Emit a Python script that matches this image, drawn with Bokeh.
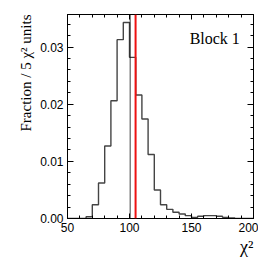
from bokeh.plotting import figure
from bokeh.models import LinearAxis, FixedTicker, PrintfTickFormatter, Span, Label, Range1d, Title
from bokeh.embed import file_html
from bokeh.resources import INLINE

# ---- data ----
bin_low = [50, 55, 60, 65, 70, 75, 80, 85, 90, 95, 100, 105, 110, 115, 120,
           125, 130, 135, 140, 145, 150, 155, 160, 165, 170, 175, 180, 185, 190, 195]
bin_width = 5
fraction = [0, 0, 0, 0.0003, 0.0024, 0.0062, 0.0127, 0.0206, 0.0313, 0.0343,
            0.0282, 0.0216, 0.0174, 0.0112, 0.0050, 0.0024, 0.0016, 0.0011, 0.0008, 0.0005,
            0.0002, 0.0004, 0.0005, 0.0005, 0.0004, 0.0002, 0.0001, 0, 0, 0]
dotted_value = 100.6
red_value = 104.9
x_major = [50, 100, 150, 200]
x_minor = [60, 70, 80, 90, 110, 120, 130, 140, 160, 170, 180, 190]
y_major = [0.0, 0.01, 0.02, 0.03]
y_minor = [0.002, 0.004, 0.006, 0.008, 0.012, 0.014, 0.016, 0.018,
           0.022, 0.024, 0.026, 0.028, 0.032, 0.034]
panel_text = "Block 1"
x_title = "χ²"
y_title = "Fraction / 5 χ² units"

SANS = "Liberation Sans"
SERIF = "Liberation Serif"

p = figure(width=258, height=258, output_backend="svg", toolbar_location=None,
           x_range=Range1d(50, 200), y_range=Range1d(0, 0.0357),
           min_border_left=67, min_border_right=5, min_border_top=14, min_border_bottom=40,
           x_axis_location=None, y_axis_location=None)
p.grid.visible = False
p.outline_line_color = "black"
p.background_fill_color = "white"
p.border_fill_color = "white"

xt = FixedTicker(ticks=x_major, minor_ticks=x_minor)
yt = FixedTicker(ticks=y_major, minor_ticks=y_minor)

def style(ax, labels):
    ax.axis_line_color = "black"
    ax.axis_line_width = 1
    ax.major_tick_in = 5
    ax.major_tick_out = 0
    ax.minor_tick_in = 3
    ax.minor_tick_out = 0
    ax.major_tick_line_color = "black"
    ax.minor_tick_line_color = "black"
    if labels:
        ax.major_label_text_font = SANS
        ax.major_label_text_font_size = "12px"
        ax.major_label_text_color = "black"
        ax.major_label_standoff = 4
    else:
        ax.major_label_text_font_size = "0px"
        ax.major_label_text_color = None

xb = LinearAxis(ticker=xt); style(xb, True)
yl = LinearAxis(ticker=yt, formatter=PrintfTickFormatter(format="%.2f")); style(yl, True)
yl.major_tick_in = 6
xa = LinearAxis(ticker=xt); style(xa, False)
yr = LinearAxis(ticker=yt); style(yr, False)
yr.major_tick_in = 6

p.add_layout(xb, "below")
p.add_layout(yl, "left")
p.add_layout(xa, "above")
p.add_layout(yr, "right")

p.add_layout(Title(text=x_title, align="right", text_font=SERIF, text_font_style="normal",
                   text_font_size="18px", text_color="black", standoff=0), "below")
p.add_layout(Title(text=y_title, align="right", text_font=SERIF, text_font_style="normal",
                   text_font_size="15px", text_color="black", standoff=7), "left")

# histogram outline
xs = bin_low + [bin_low[-1] + bin_width]
ys = fraction + [fraction[-1]]
p.step(xs, ys, mode="after", line_color="#444444", line_width=1.4)

p.add_layout(Span(location=dotted_value, dimension="height", line_color="black",
                  line_width=1.5, line_dash="1 1"))
p.add_layout(Span(location=red_value, dimension="height", line_color="#ee1111",
                  line_width=2))

p.add_layout(Label(x=189, y=0.0315, text=panel_text, text_font=SERIF,
                   text_font_size="16px", text_align="right", text_baseline="alphabetic",
                   text_color="black"))

open("out.html", "w").write(file_html(p, INLINE))
